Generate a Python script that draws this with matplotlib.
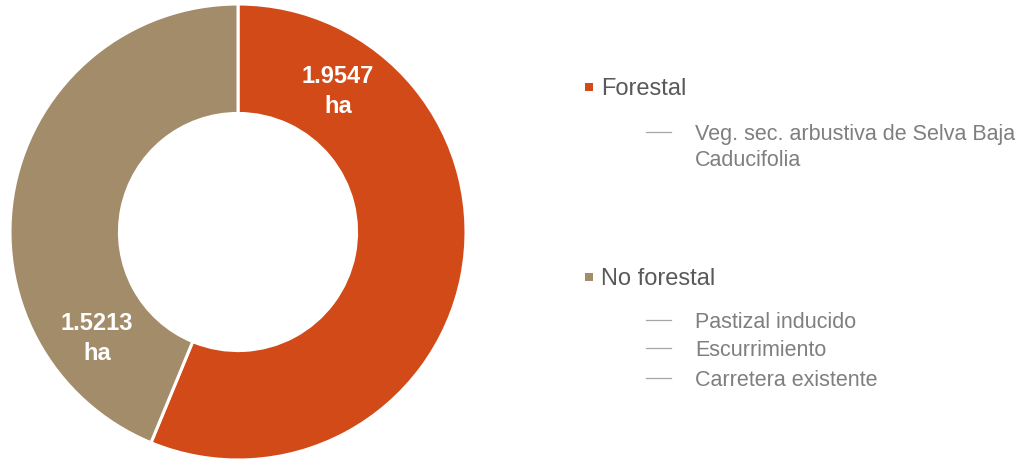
import matplotlib
matplotlib.use("Agg")
import matplotlib.pyplot as plt
from matplotlib.lines import Line2D

plt.rcParams['font.family'] = ['Liberation Sans', 'DejaVu Sans']

# Data
categories = ['Forestal', 'No forestal']
areas = [1.9547, 1.5213]
colors = ['#D24A18', '#A38C6A']
sub_items = [['Veg. sec. arbustiva de Selva Baja', 'Caducifolia'],
             ['Pastizal inducido', 'Escurrimiento', 'Carretera existente']]
# dash shown only in front of the first line of a wrapped item
sub_dash = [[True, False], [True, True, True]]

W, H = 1018, 461
fig = plt.figure(figsize=(W / 100, H / 100), dpi=100)

# Donut
R = 228
ax = fig.add_axes([(238 - 230) / W, (229 - 230) / H, 460 / W, 460 / H])
ax.pie(areas, colors=colors, startangle=90, counterclock=False, radius=1,
       wedgeprops=dict(width=0.48, edgecolor='white', linewidth=2.2))
ax.set_xlim(-230 / R, 230 / R)
ax.set_ylim(-230 / R, 230 / R)
ax.set_aspect('equal')
ax.axis('off')

# Data labels (moved by hand in the original)
label_pos = [(0.439, 0.654), (-0.618, -0.43)]
for val, (x, y) in zip(areas, label_pos):
    ax.text(x, y, f'{val:.4f}', ha='center', va='baseline', color='white',
            fontsize=17, fontweight='bold')
    ax.text(x, y - 0.132, 'ha', ha='center', va='baseline', color='white',
            fontsize=17, fontweight='bold')

# Legend
def fx(px):
    return px / W

def fy(py):
    return 1 - py / H

head_base = [95, 285]
sub_base = [[140, 166], [328, 356, 386]]
for i, cat in enumerate(categories):
    hb = head_base[i]
    fig.add_artist(Line2D([fx(589)], [fy(hb - 8)], marker='s', markersize=5.5,
                          color=colors[i], mew=0, transform=fig.transFigure))
    fig.text(fx(601), fy(hb), cat, ha='left', va='baseline', fontsize=17,
             color='#595959')
    for s, b, d in zip(sub_items[i], sub_base[i], sub_dash[i]):
        if d:
            fig.add_artist(Line2D([fx(646), fx(671)], [fy(b - 8), fy(b - 8)],
                                  lw=0.9, color='#A6A6A6',
                                  transform=fig.transFigure))
        fig.text(fx(695), fy(b), s, ha='left', va='baseline', fontsize=15.5,
                 color='#7F7F7F')

fig.savefig('out.png', dpi=100)
